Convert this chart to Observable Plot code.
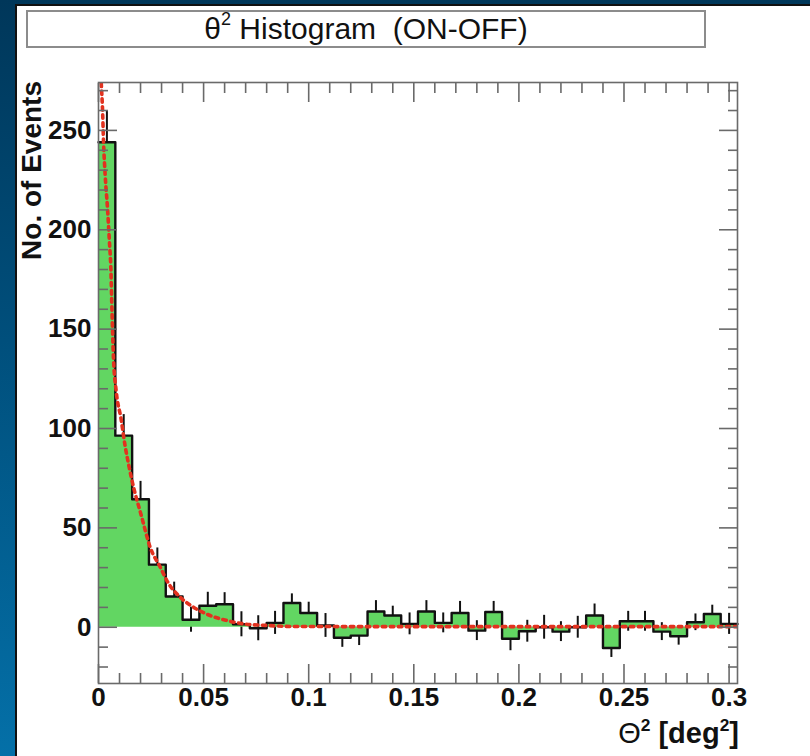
<!DOCTYPE html>
<html>
<head>
<meta charset="utf-8">
<script src="https://cdn.jsdelivr.net/npm/d3@7"></script>
<script src="https://cdn.jsdelivr.net/npm/@observablehq/plot@0.6"></script>
<style>
  html, body { margin: 0; padding: 0; }
  body {
    width: 810px; height: 756px; position: relative; overflow: hidden;
    background: linear-gradient(to bottom, #00375a 0%, #004f7c 45%, #0470a8 100%);
    font-family: "Liberation Sans", Arial, Helvetica, sans-serif;
  }
  #panel {
    position: absolute; left: 15px; top: 4px; right: 0; bottom: 0;
    background: #ffffff; border-left: 2px solid #111; border-top: 2px solid #111;
  }
  #title {
    position: absolute; left: 26px; top: 10px; width: 680px; height: 38px;
    box-sizing: border-box; border: 2px solid #8c8c8c; background: #fff;
    text-align: center; font-size: 30px; line-height: 34px; color: #111;
  }
  #title sup, #xtitle sup { font-size: 0.6em; position: relative; top: -0.12em; vertical-align: top; line-height: 1; }
  #chart { position: absolute; left: 0; top: 0; }
  #ytitle {
    position: absolute; left: 18px; top: 81px; transform-origin: 0 0;
    transform: rotate(-90deg) translate(-100%, 0);
    white-space: nowrap; font-weight: bold; font-size: 28px; line-height: 1; color: #111;
  }
  #xtitle {
    position: absolute; right: 71px; top: 719px; white-space: nowrap;
    font-weight: bold; font-size: 29px; line-height: 1; color: #111;
  }
  #xtitle .sym { font-weight: normal; }
</style>
</head>
<body>
<div id="panel"></div>
<div id="title">θ<sup>2</sup> Histogram&nbsp; (ON-OFF)</div>
<div id="chart"></div>
<div id="ytitle">No. of Events</div>
<div id="xtitle"><span class="sym">Θ</span><sup>2</sup> [deg<sup>2</sup>]</div>
<script>
// θ² distribution, ON minus OFF counts, bins of 0.008 deg² starting at 0
const binWidth = 0.008;
const counts = [
  244, 96.4, 64.4, 31.5, 15.5, 3.8, 10.8, 11.6, 1.5, -0.5,
  2.2, 12.2, 7.2, 0.9, -5.3, -4.2, 7.9, 5.9, 1.7, 7.9,
  2.2, 7.2, -1.7, 7.7, -5.8, -2.0, 0.0, -2.2, 0.0, 5.9,
  -10.4, 3.0, 3.0, -2.2, -4.5, 2.5, 6.7, 1.7
];
const errors = [
  16, 10.6, 9, 8.4, 7.2, 6.3, 6.8, 5.8, 6.3, 6.3,
  5.8, 4.6, 5.4, 6, 4.8, 5, 5.5, 4.7, 5.5, 5.5,
  5, 5.8, 5, 5.3, 6, 5.5, 6, 5, 5.5, 5.8,
  4.8, 5, 5, 4.5, 4.5, 4.2, 4.4, 5.3
];

// fitted signal + background curve
const fitX = [0.0006, 0.0013, 0.0019, 0.0024, 0.0032, 0.0043, 0.0052, 0.0059, 0.0064, 0.0071,
              0.0084, 0.0107, 0.0127, 0.0147, 0.0159, 0.0206, 0.0246, 0.0294, 0.0325, 0.0389,
              0.0452, 0.0531, 0.0611, 0.069, 0.0801, 0.0926, 0.15, 0.2, 0.25, 0.304];
const fitY = [290, 274, 261, 244, 227, 210.5, 194, 180, 160, 136,
              119, 105, 91, 80, 74, 55.3, 40.2, 30.2, 23.5, 15.1,
              10.1, 5.9, 3.4, 1.7, 0.9, 0.4, 0.3, 0.3, 0.3, 0.3];

// axis ticks
const xMajor = [0, 0.05, 0.1, 0.15, 0.2, 0.25, 0.3];
const xMinor = [0.01, 0.02, 0.03, 0.04, 0.06, 0.07, 0.08, 0.09, 0.11, 0.12, 0.13, 0.14,
                0.16, 0.17, 0.18, 0.19, 0.21, 0.22, 0.23, 0.24, 0.26, 0.27, 0.28, 0.29];
const yMajor = [0, 50, 100, 150, 200, 250];
const yMinor = [-20, -10, 10, 20, 30, 40, 60, 70, 80, 90, 110, 120, 130, 140,
                160, 170, 180, 190, 210, 220, 230, 240, 260, 270];

const steps = counts.map((v, i) => ({x: i * binWidth, y: v}));
steps.push({x: counts.length * binWidth, y: counts[counts.length - 1]});
const bars = counts.map((v, i) => ({x: (i + 0.5) * binWidth, lo: v - errors[i], hi: v + errors[i]}));
const fit = fitX.map((x, i) => ({x, y: fitY[i]}));

const axisGray = "#6a6a6a";
const labelFont = {fontSize: 26, fontWeight: "bold", fill: "#111"};
const blank = () => "";

const chart = Plot.plot({
  width: 810,
  height: 756,
  marginLeft: 98,
  marginRight: 73,
  marginTop: 82,
  marginBottom: 73,
  style: {background: "transparent", fontFamily: "'Liberation Sans', Arial, sans-serif", overflow: "visible"},
  x: {domain: [0, counts.length * binWidth], label: null},
  y: {domain: [-28.3, 274.1], label: null},
  marks: [
    Plot.ruleX(bars, {x: "x", y1: "lo", y2: "hi", stroke: "#111", strokeWidth: 2}),
    Plot.areaY(steps, {x: "x", y: "y", curve: "step-after", fill: "#62d662"}),
    Plot.line(steps, {x: "x", y: "y", curve: "step-after", stroke: "#111", strokeWidth: 2.4}),
    Plot.line(fit, {x: "x", y: "y", curve: "monotone-x", stroke: "#e2321f", strokeWidth: 3.6,
                    strokeDasharray: "3.5,4.5", clip: true}),
    Plot.frame({stroke: axisGray, strokeWidth: 1.6}),
    // inward ticks on all four sides
    Plot.axisX(xMajor, {anchor: "bottom", tickSize: -19, tickFormat: blank, stroke: axisGray, strokeWidth: 1.6, label: null}),
    Plot.axisX(xMinor, {anchor: "bottom", tickSize: -10, tickFormat: blank, stroke: axisGray, strokeWidth: 1.6, label: null}),
    Plot.axisX(xMajor, {anchor: "top", tickSize: -19, tickFormat: blank, stroke: axisGray, strokeWidth: 1.6, label: null}),
    Plot.axisX(xMinor, {anchor: "top", tickSize: -10, tickFormat: blank, stroke: axisGray, strokeWidth: 1.6, label: null}),
    Plot.axisY(yMajor, {anchor: "left", tickSize: -19, tickFormat: blank, stroke: axisGray, strokeWidth: 1.6, label: null}),
    Plot.axisY(yMinor, {anchor: "left", tickSize: -10, tickFormat: blank, stroke: axisGray, strokeWidth: 1.6, label: null}),
    Plot.axisY(yMajor, {anchor: "right", tickSize: -19, tickFormat: blank, stroke: axisGray, strokeWidth: 1.6, label: null}),
    Plot.axisY(yMinor, {anchor: "right", tickSize: -10, tickFormat: blank, stroke: axisGray, strokeWidth: 1.6, label: null}),
    // tick labels
    Plot.axisX(xMajor, {anchor: "bottom", tickSize: 0, tickPadding: 4, tickFormat: d => String(d), label: null, ...labelFont}),
    Plot.axisY(yMajor, {anchor: "left", tickSize: 0, tickPadding: 7, tickFormat: d => String(d), label: null, ...labelFont})
  ]
});
document.getElementById("chart").appendChild(chart);
</script>
</body>
</html>
